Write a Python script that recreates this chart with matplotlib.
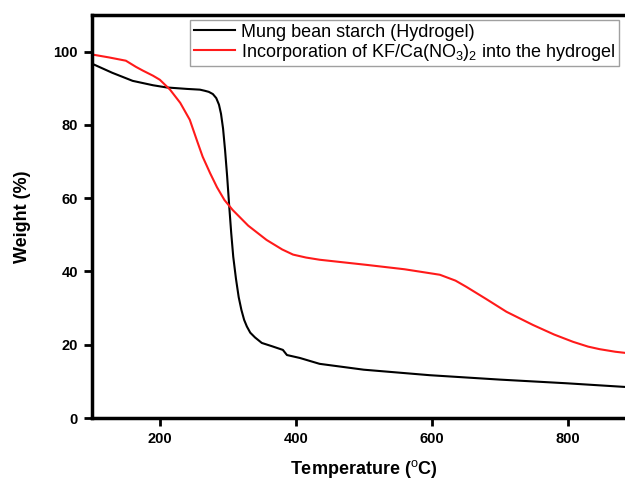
import matplotlib
matplotlib.use("Agg")
import matplotlib.pyplot as plt

plt.rcParams['font.family'] = ['Liberation Sans', 'DejaVu Sans']
plt.rcParams['mathtext.fontset'] = 'custom'
plt.rcParams['mathtext.rm'] = 'Liberation Sans'

# TGA curves: temperature (C) vs weight (%)
temp_gel = [100, 130, 160, 190, 210, 240, 259, 266, 272, 278, 283, 287, 290, 293,
            296, 299, 302, 305, 308, 312, 316, 320, 324, 328, 333, 340, 350, 365,
            381, 387, 406, 435, 500, 597, 700, 798, 884]
weight_gel = [96.7, 94.2, 92.0, 90.8, 90.2, 89.8, 89.6, 89.3, 89.0, 88.4, 87.3, 85.5,
              83.0, 79.0, 73.0, 66.0, 58.0, 50.5, 44.0, 38.0, 33.0, 29.5, 26.8, 25.0,
              23.3, 22.0, 20.5, 19.6, 18.6, 17.2, 16.4, 14.8, 13.2, 11.7, 10.5, 9.5,
              8.5]

temp_kf = [100, 125, 150, 165, 175, 190, 200, 215, 230, 244, 255, 263, 274, 284,
           295, 307, 330, 357, 380, 396, 415, 435, 504, 560, 612, 635, 651, 680,
           710, 749, 780, 808, 830, 847, 870, 884]
weight_kf = [99.2, 98.4, 97.5, 95.8, 94.8, 93.4, 92.3, 89.6, 86.0, 81.4, 75.5, 71.3,
             66.8, 63.0, 59.5, 56.8, 52.5, 48.6, 46.0, 44.6, 43.8, 43.2, 41.8, 40.6,
             39.1, 37.5, 35.8, 32.5, 29.0, 25.4, 22.8, 20.8, 19.5, 18.8, 18.1, 17.8]

labels = ['Mung bean starch (Hydrogel)',
          r'Incorporation of KF/Ca(NO$_3$)$_2$ into the hydrogel']

fig = plt.figure(figsize=(6.25, 4.8), dpi=100)
ax = fig.add_axes([0.147, 0.129, 0.870, 0.840])

ax.plot(temp_gel, weight_gel, color='black', lw=1.5, label=labels[0])
ax.plot(temp_kf, weight_kf, color='#ff1a1a', lw=1.5, label=labels[1])

ax.set_xlim(100, 900)
ax.set_ylim(0, 110)
ax.set_xticks([200, 400, 600, 800])
ax.set_yticks([0, 20, 40, 60, 80, 100])

for s in ax.spines.values():
    s.set_linewidth(2.5)
ax.tick_params(direction='out', length=6, width=2, labelsize=10.5, pad=4)
for lab in ax.get_xticklabels() + ax.get_yticklabels():
    lab.set_fontweight('bold')

ax.set_xlabel(r'Temperature ($^{\rm o}$C)', fontsize=13, fontweight='bold', labelpad=9)
ax.set_ylabel('Weight (%)', fontsize=13, fontweight='bold', labelpad=16)

leg = fig.legend(loc='upper left', bbox_to_anchor=(0.304, 0.958), fontsize=13,
                 frameon=True, fancybox=False, edgecolor='#888888',
                 handlelength=2.3, borderpad=0.2, labelspacing=0.05,
                 handletextpad=0.3, borderaxespad=0)
leg.get_frame().set_linewidth(1.0)

fig.savefig('out.png', dpi=100)
